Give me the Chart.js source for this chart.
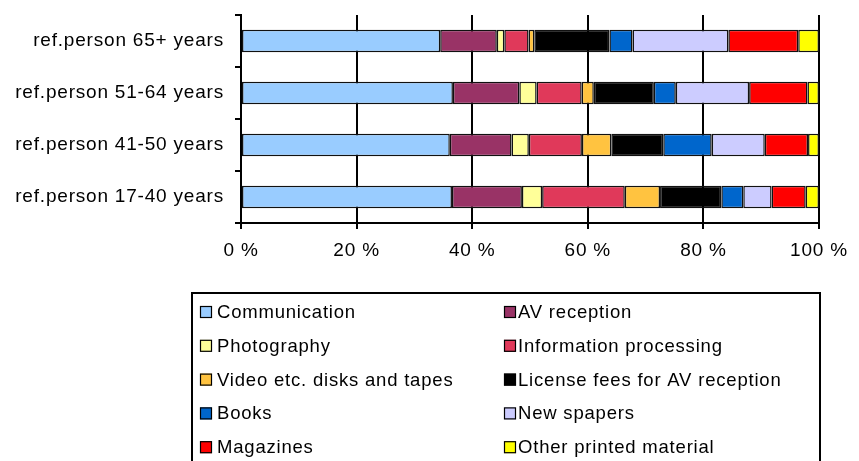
<!DOCTYPE html>
<html><head><meta charset="utf-8">
<script src="https://cdn.jsdelivr.net/npm/chart.js@4/dist/chart.umd.min.js"></script>
<style>html,body{margin:0;padding:0;background:#fff;overflow:hidden}#wrap{width:859px;height:461px;position:relative}</style>
</head><body><div id="wrap"><canvas id="c" width="859" height="461"></canvas></div>
<script>
const categories = ['ref.person 65+ years', 'ref.person 51-64 years', 'ref.person 41-50 years', 'ref.person 17-40 years'];
const seriesNames = ['Communication', 'AV reception', 'Photography', 'Information processing', 'Video etc. disks and tapes', 'License fees for AV reception', 'Books', 'New spapers', 'Magazines', 'Other printed material'];
const seriesColors = ['#99CCFF', '#993366', '#FFFF99', '#E0395A', '#FFC340', '#000000', '#0066CC', '#CCCCFF', '#FF0000', '#FFFF00'];
const xTicks = [0, 20, 40, 60, 80, 100];

// values per category, order: 65+, 51-64, 41-50, 17-40
const communication = [34.5, 36.7, 36.2, 36.5];
const avReception = [9.8, 11.5, 10.7, 12.1];
const photography = [1.3, 3.0, 3.0, 3.5];
const informationProcessing = [4.2, 7.8, 9.2, 14.3];
const videoDisksTapes = [1.0, 2.1, 5.1, 6.1];
const licenseFees = [13.0, 10.4, 9.0, 10.6];
const books = [4.0, 3.8, 8.4, 3.8];
const newspapers = [16.6, 12.7, 9.2, 4.9];
const magazines = [12.1, 10.1, 7.5, 5.9];
const otherPrinted = [3.6, 2.0, 1.9, 2.3];

const series = [communication, avReception, photography, informationProcessing, videoDisksTapes, licenseFees, books, newspapers, magazines, otherPrinted];
const totals = categories.map((_, i) => series.reduce((s, a) => s + a[i], 0));

const FONT = "'Liberation Sans', Arial, sans-serif";
const LS = '0.8px';

const spacingPlugin = {
  id: 'spacing',
  beforeInit(c) { c.ctx.letterSpacing = LS; },
  beforeUpdate(c) { c.ctx.letterSpacing = LS; },
  beforeLayout(c) { c.ctx.letterSpacing = LS; },
  beforeDraw(c) { c.ctx.letterSpacing = LS; }
};

const boxLegend = {
  id: 'boxLegend',
  afterDraw(chart) {
    const ctx = chart.ctx;
    ctx.save();
    ctx.letterSpacing = '0.8px';
    ctx.lineWidth = 2;
    ctx.strokeStyle = '#000';
    ctx.strokeRect(192, 293, 628, 200);
    ctx.font = '18.5px ' + FONT;
    ctx.textBaseline = 'middle';
    ctx.fillStyle = '#000';
    chart.data.datasets.forEach((ds, i) => {
      const col = i % 2, row = Math.floor(i / 2);
      const sx = col === 0 ? 200 : 504;
      const tx = col === 0 ? 217 : 518;
      const cy = 312 + row * 33.8;
      ctx.fillStyle = ds.backgroundColor;
      ctx.fillRect(sx, cy - 6, 12, 12);
      ctx.lineWidth = 1.2;
      ctx.strokeStyle = '#000';
      ctx.strokeRect(sx + 0.5, cy - 5.5, 11, 11);
      ctx.fillStyle = '#000';
      ctx.fillText(ds.label, tx, cy + 1);
    });
    ctx.restore();
  }
};

new Chart(document.getElementById('c'), {
  type: 'bar',
  data: {
    labels: categories,
    datasets: seriesNames.map((name, k) => ({
      label: name,
      data: series[k].map((v, i) => v / totals[i] * 100),
      backgroundColor: seriesColors[k],
      borderColor: '#111',
      borderWidth: 1.5,
      borderSkipped: false,
      categoryPercentage: 1,
      barPercentage: 0.43
    }))
  },
  options: {
    indexAxis: 'y',
    responsive: false,
    animation: false,
    events: [],
    layout: { padding: { top: 15, right: 40, bottom: 198, left: 0 } },
    plugins: { legend: { display: false }, tooltip: { enabled: false } },
    scales: {
      x: {
        stacked: true,
        min: 0, max: 100,
        afterBuildTicks(s) { s.ticks = xTicks.map(v => ({ value: v })); },
        afterFit(s) { s.height = 40; s.paddingLeft = 0; s.paddingRight = 0; },
        grid: { color: '#000', lineWidth: 2, tickLength: 6, drawTicks: true },
        border: { color: '#000', width: 2 },
        ticks: { color: '#000', font: { family: FONT, size: 19 }, padding: 10, maxRotation: 0, callback: v => v + ' %' }
      },
      y: {
        stacked: true,
        afterFit(s) { s.width = 241; s.paddingTop = 0; s.paddingBottom = 0; },
        grid: { display: true, drawOnChartArea: false, drawTicks: true, tickLength: 6, color: '#000', lineWidth: 2, offset: true },
        border: { color: '#000', width: 2 },
        ticks: { color: '#000', font: { family: FONT, size: 19 }, padding: 11 }
      }
    }
  },
  plugins: [spacingPlugin, boxLegend]
});
</script></body></html>
